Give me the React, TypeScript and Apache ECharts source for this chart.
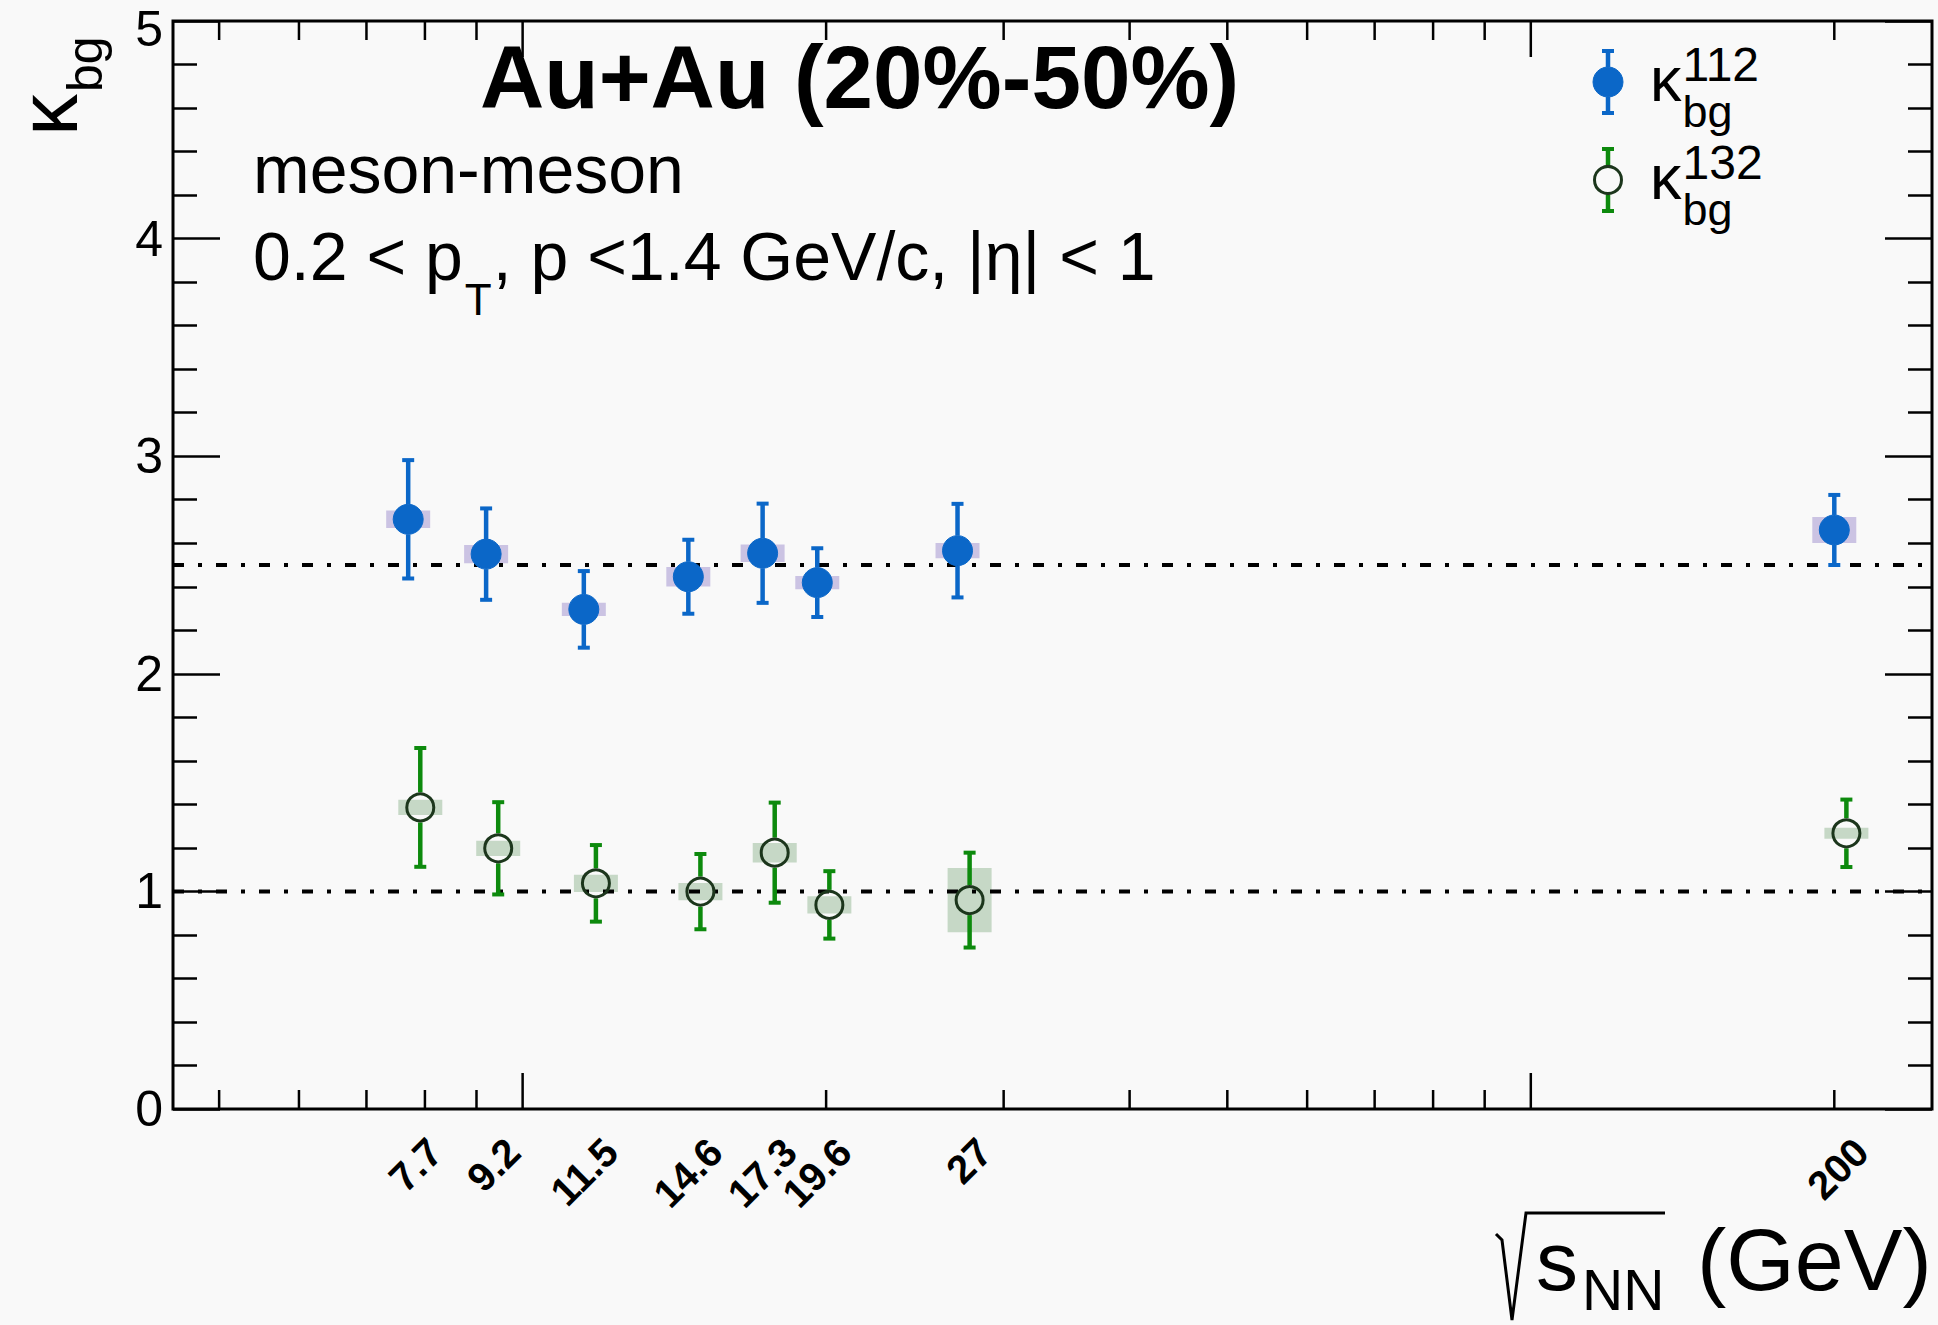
import React, { useEffect, useRef } from 'react';
import * as echarts from 'echarts';

// collision energies (GeV) and their tick labels
const energies = [7.7, 9.2, 11.5, 14.6, 17.3, 19.6, 27, 200];
const energyLabels = ['7.7', '9.2', '11.5', '14.6', '17.3', '19.6', '27', '200'];

// kappa_bg^112 (filled blue)
const kappa112 = [2.71, 2.55, 2.296, 2.446, 2.554, 2.419, 2.566, 2.661];
const kappa112Stat = [0.272, 0.21, 0.176, 0.17, 0.228, 0.158, 0.215, 0.161];
const kappa112Sys = [0.04, 0.042, 0.03, 0.045, 0.04, 0.03, 0.035, 0.06];

// kappa_bg^132 (open green)
const kappa132 = [1.386, 1.198, 1.037, 0.999, 1.178, 0.938, 0.96, 1.267];
const kappa132Stat = [0.273, 0.212, 0.176, 0.173, 0.23, 0.155, 0.218, 0.155];
const kappa132Sys = [0.035, 0.035, 0.04, 0.04, 0.045, 0.04, 0.148, 0.025];

// the 132 points are drawn a little to the right of the nominal energy
const shift132 = 1.028;

// dash-dotted reference levels
const refLevels = [2.5, 1];

// axis ticks
const xMajorTicks = [10, 100];
const xMinorTicks = [5, 6, 7, 8, 9, 20, 30, 40, 50, 60, 70, 80, 90, 200];
const yMax = 5;

const BG = '#f9f9f9';
const FONT = '"Liberation Sans", Arial, Helvetica, sans-serif';
const BLUE = '#0b67c8';
const GREEN = '#0d8a0d';
const GREEN_RING = '#1c361c';
const BLUE_BOX = '#cbc3e3';
const GREEN_BOX = '#c6d8c6';

const BASE = 0.35; // distance from the middle of a text line down to its baseline, in em

const ctx = document.createElement('canvas').getContext('2d') as CanvasRenderingContext2D;
function textWidth(text: string, font: string) {
  ctx.font = font;
  return ctx.measureText(text).width;
}
function font(size: number, weight = 'normal') {
  return `${weight} ${size}px ${FONT}`;
}
// text placed by its baseline
function label(x: number, baseline: number, text: string, size: number, weight = 'normal', align = 'left') {
  return {
    type: 'text',
    x,
    y: baseline - BASE * size,
    style: { text, font: font(size, weight), fill: '#000', align, verticalAlign: 'middle' }
  };
}

function marker(cx: number, cy: number, top: number, bottom: number, filled: boolean) {
  const r = 15;
  const color = filled ? BLUE : GREEN;
  return [
    { type: 'line', shape: { x1: cx, y1: top, x2: cx, y2: cy - r }, style: { stroke: color, lineWidth: 4.5 } },
    { type: 'line', shape: { x1: cx, y1: cy + r, x2: cx, y2: bottom }, style: { stroke: color, lineWidth: 4.5 } },
    { type: 'line', shape: { x1: cx - 6, y1: top, x2: cx + 6, y2: top }, style: { stroke: color, lineWidth: 4 } },
    { type: 'line', shape: { x1: cx - 6, y1: bottom, x2: cx + 6, y2: bottom }, style: { stroke: color, lineWidth: 4 } },
    {
      type: 'circle',
      shape: { cx, cy, r: filled ? r : r - 1.5 },
      style: filled
        ? { fill: BLUE, stroke: BLUE, lineWidth: 1 }
        : { fill: 'none', stroke: GREEN_RING, lineWidth: 3 }
    }
  ];
}

export default function App() {
  const chartRef = useRef<HTMLDivElement>(null);

  useEffect(() => {
    document.body.style.margin = '0';
    document.body.style.background = BG;
    if (!chartRef.current) return;

    const chart = echarts.init(chartRef.current, null, { renderer: 'svg' });

    const data112 = energies.map((e, i) => [e, kappa112[i], kappa112Stat[i], kappa112Sys[i]]);
    const data132 = energies.map((e, i) => [e * shift132, kappa132[i], kappa132Stat[i], kappa132Sys[i]]);

    const boxRenderer = (fill: string) => (params: any, api: any) => {
      const x = api.value(0);
      const y = api.value(1);
      const sys = api.value(3);
      const c = api.coord([x, y]);
      const t = api.coord([x, y + sys]);
      const b = api.coord([x, y - sys]);
      return {
        type: 'rect',
        shape: { x: c[0] - 22, y: t[1], width: 44, height: b[1] - t[1] },
        style: { fill }
      };
    };

    const pointRenderer = (filled: boolean) => (params: any, api: any) => {
      const x = api.value(0);
      const y = api.value(1);
      const stat = api.value(2);
      const c = api.coord([x, y]);
      const t = api.coord([x, y + stat]);
      const b = api.coord([x, y - stat]);
      return { type: 'group', children: marker(c[0], c[1], t[1], b[1], filled) };
    };

    // pieces of the kinematic-cut line
    const kinA = '0.2 < p';
    const kinB = ', p <1.4 GeV/c, |η| < 1';
    const kinX = 253;
    const kinSize = 68;
    const kinTx = kinX + textWidth(kinA, font(kinSize)) + 2;
    const kinBx = kinTx + textWidth('T', font(44)) + 1;

    // legend entries
    const kappaLegendW = textWidth('κ', font(63));
    const legendEntry = (my: number, filled: boolean, sup: string, baseline: number) => [
      { type: 'group', children: marker(1608, my, my - 31, my + 31, filled) },
      label(1650, baseline, 'κ', 63),
      label(1650 + kappaLegendW + 1, baseline - 20, sup, 48),
      label(1650 + kappaLegendW + 1, baseline + 26, 'bg', 45)
    ];

    // y-axis title, rotated to read upward
    const kappaTitleW = textWidth('κ', font(84));

    const yAxisBase = {
      type: 'value',
      min: 0,
      max: yMax,
      interval: 1,
      axisLine: { show: false },
      axisTick: { show: true, inside: true, length: 47, lineStyle: { color: '#000', width: 2.5 } },
      minorTick: { show: true, splitNumber: 5, length: 24, lineStyle: { color: '#000', width: 2.5 } },
      splitLine: { show: false }
    };

    const option: any = {
      animation: false,
      backgroundColor: BG,
      grid: {
        left: 173,
        top: 21,
        width: 1759,
        height: 1088,
        show: true,
        borderColor: '#000',
        borderWidth: 3,
        backgroundColor: 'transparent'
      },
      xAxis: {
        type: 'log',
        logBase: 10,
        min: 4.5,
        max: 250,
        axisLine: { show: false },
        axisTick: { show: false },
        axisLabel: { show: false },
        splitLine: { show: false }
      },
      yAxis: [
        {
          ...yAxisBase,
          // the top label is drawn as a graphic text so it stays inside the page
          axisLabel: { color: '#000', fontSize: 50, fontFamily: FONT, margin: 10, showMaxLabel: false }
        },
        {
          ...yAxisBase,
          position: 'right',
          axisLabel: { show: false }
        }
      ],
      series: [
        {
          name: 'xTicks',
          type: 'custom',
          silent: true,
          data: [...xMajorTicks.map(v => [v, 1]), ...xMinorTicks.map(v => [v, 0])],
          renderItem: (params: any, api: any) => {
            const v = api.value(0);
            const len = api.value(1) === 1 ? 36 : 19;
            const b = api.coord([v, 0]);
            const t = api.coord([v, yMax]);
            const st = { stroke: '#000', lineWidth: 2.5 };
            return {
              type: 'group',
              children: [
                { type: 'line', shape: { x1: b[0], y1: b[1], x2: b[0], y2: b[1] - len }, style: st },
                { type: 'line', shape: { x1: t[0], y1: t[1], x2: t[0], y2: t[1] + len }, style: st }
              ]
            };
          }
        },
        {
          name: 'sys112',
          type: 'custom',
          silent: true,
          data: data112,
          renderItem: boxRenderer(BLUE_BOX)
        },
        {
          name: 'sys132',
          type: 'custom',
          silent: true,
          data: data132,
          renderItem: boxRenderer(GREEN_BOX)
        },
        {
          name: 'reference',
          type: 'custom',
          silent: true,
          data: refLevels.map(v => [10, v]),
          renderItem: (params: any, api: any) => {
            const cs = params.coordSys;
            const p = api.coord([10, api.value(1)]);
            return {
              type: 'line',
              shape: { x1: cs.x, y1: p[1], x2: cs.x + cs.width, y2: p[1] },
              style: { stroke: '#000', lineWidth: 4, lineDash: [11, 14, 4, 14] }
            };
          }
        },
        {
          name: 'κ112',
          type: 'custom',
          data: data112,
          renderItem: pointRenderer(true)
        },
        {
          name: 'κ132',
          type: 'custom',
          data: data132,
          renderItem: pointRenderer(false)
        },
        {
          name: 'energyLabels',
          type: 'custom',
          silent: true,
          data: energies.map(e => [e, 0]),
          renderItem: (params: any, api: any) => {
            const p = api.coord([api.value(0), 0]);
            return {
              type: 'text',
              x: p[0] + 27,
              y: p[1] + 36,
              rotation: Math.PI / 4,
              style: {
                text: energyLabels[params.dataIndex],
                font: font(40, 'bold'),
                fill: '#000',
                align: 'right',
                verticalAlign: 'middle'
              }
            };
          }
        }
      ],
      graphic: [
        label(163, 46, String(yMax), 50, 'normal', 'right'),
        label(480, 108, 'Au+Au (20%-50%)', 89, 'bold'),
        label(253, 193, 'meson-meson', 68),
        label(kinX, 280, kinA, kinSize),
        label(kinTx, 315, 'T', 44),
        label(kinBx, 280, kinB, kinSize),
        ...legendEntry(82, true, '112', 101),
        ...legendEntry(180, false, '132', 199),
        {
          type: 'group',
          x: 77,
          y: 136,
          rotation: Math.PI / 2,
          children: [
            label(0, 0, 'κ', 84),
            label(kappaTitleW + 2, 25, 'bg', 50)
          ]
        },
        {
          type: 'polyline',
          shape: { points: [[1496, 1234], [1502, 1240], [1512, 1320], [1526, 1213], [1665, 1213]] },
          style: { stroke: '#000', lineWidth: 3, fill: 'none' }
        },
        label(1536, 1290, 's', 84),
        label(1582, 1310, 'NN', 57),
        label(1697, 1290, '(GeV)', 88)
      ]
    };

    chart.setOption(option);

    return () => {
      chart.dispose();
    };
  }, []);

  return <div ref={chartRef} style={{ width: 1938, height: 1325 }} />;
}
